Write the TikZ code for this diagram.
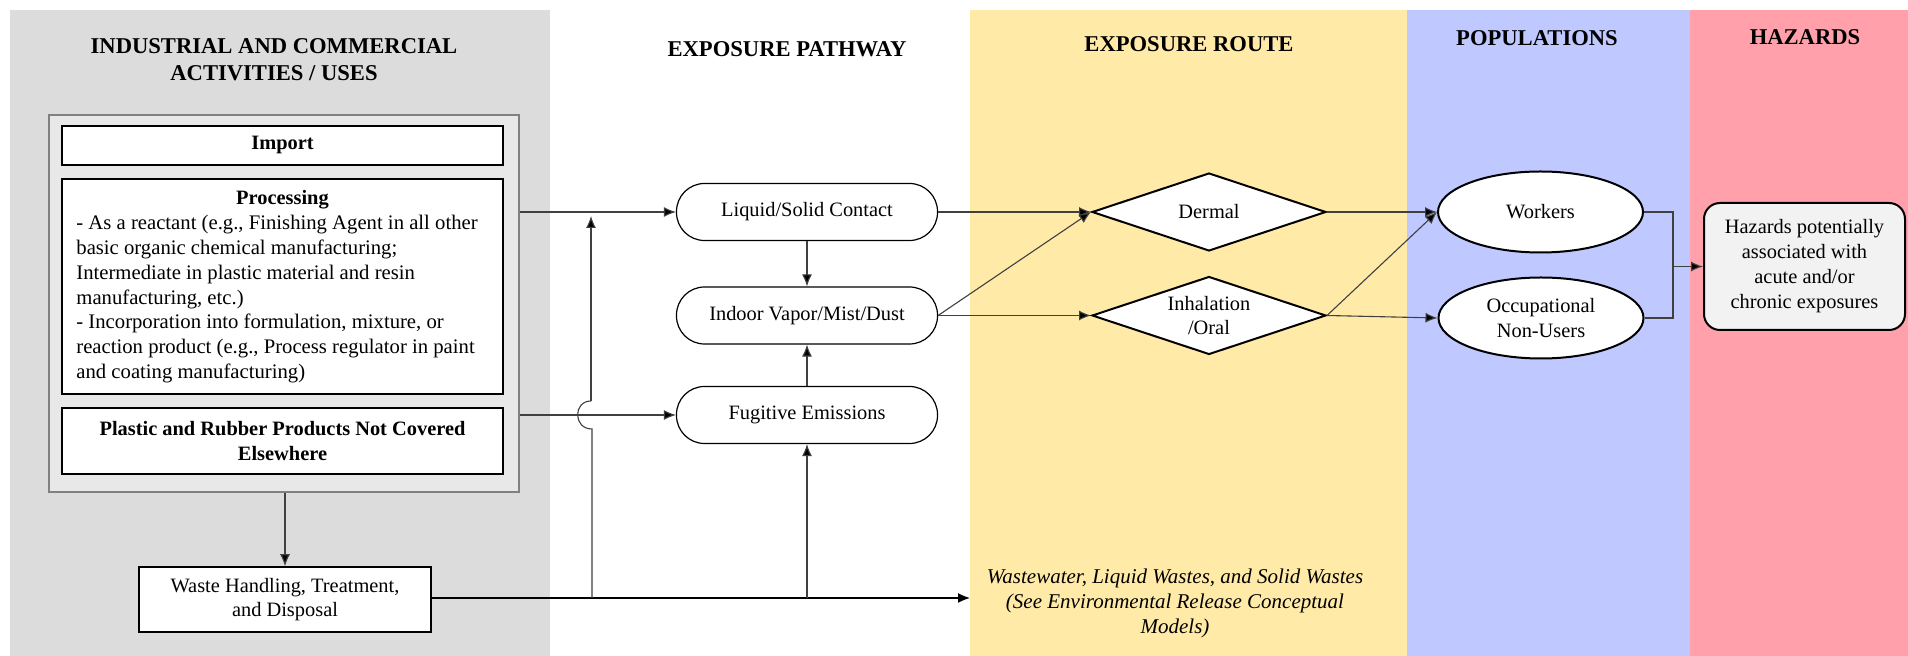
\documentclass[tikz,border=0pt]{standalone}
\usepackage{fontspec}
\setmainfont{Liberation Serif}
\usetikzlibrary{arrows.meta,shapes.geometric,calc}
\definecolor{bandgray}{HTML}{DCDCDC}
\definecolor{outerfill}{HTML}{E8E8E8}
\definecolor{bandyellow}{HTML}{FFEAA8}
\definecolor{bandblue}{HTML}{BFC9FF}
\definecolor{bandpink}{HTML}{FFA0AB}
\definecolor{hazfill}{HTML}{F2F2F2}
\definecolor{linegray}{HTML}{404040}
\begin{document}
\begin{tikzpicture}[x=0.5pt,y=-0.5pt,
  conn/.style={draw=linegray, line width=0.55pt},
  arr/.style={conn, -{Latex[length=6pt,width=5pt,fill=black]}},
  title/.style={font=\fontsize{11.3}{13.5}\selectfont\bfseries, align=center, inner sep=0pt},
  body/.style={font=\fontsize{10.2}{12.4}\selectfont},
  boxw/.style={rectangle, draw=black, fill=white, line width=0.75pt, inner sep=0pt, body, align=center},
  stadium/.style={rectangle, draw=black, fill=white, line width=0.6pt, rounded corners=14pt, minimum width=130.5pt, minimum height=28.5pt, inner sep=0pt, body},
  diam/.style={diamond, aspect=3, draw=black, fill=white, line width=1pt, inner sep=0pt, minimum width=117pt, minimum height=39pt, body, align=center},
  ell/.style={ellipse, draw=black, fill=white, line width=1pt, minimum width=102.5pt, minimum height=40.5pt, inner sep=0pt, body, align=center}
]
\useasboundingbox (0,0) rectangle (1908,656);
\fill[white] (0,0) rectangle (1908,656);
% bands
\fill[bandgray] (10,10) rectangle (550,656);
\fill[bandyellow] (970,10) rectangle (1407,656);
\fill[bandblue] (1407,10) rectangle (1690,656);
\fill[bandpink] (1690,10) rectangle (1908,656);
% titles
\node[title] (t1) at (274,59.5) {INDUSTRIAL AND COMMERCIAL\\ACTIVITIES / USES};
\node[title] (t2) at (787,49) {EXPOSURE PATHWAY};
\node[title] (t3) at (1189,44) {EXPOSURE ROUTE};
\node[title] (t4) at (1537,38) {POPULATIONS};
\node[title] (t5) at (1805,37) {HAZARDS};
% left group
\node[rectangle, draw=gray, fill=outerfill, line width=0.6pt, minimum width=235pt, minimum height=188.5pt, inner sep=0pt] (outer) at (284,303.5) {};
\node[boxw, minimum width=220.5pt, minimum height=19.5pt, font=\fontsize{10.2}{12.4}\selectfont\bfseries] (imp) at (282.5,145.5) {Import};
\node[boxw, minimum width=220.5pt, minimum height=107.5pt] (proc) at (282.5,286.5) {};
\node[inner sep=0pt, font=\fontsize{10.2}{12.4}\selectfont\bfseries] (proct) at (282.5,200) {Processing};
\node[font=\fontsize{10.35}{12.4}\selectfont, align=left, anchor=north west, inner sep=0pt] (procl) at (76,215) {- As a reactant (e.g., Finishing Agent in all other\\basic organic chemical manufacturing;\\Intermediate in plastic material and resin\\manufacturing, etc.)\\- Incorporation into formulation, mixture, or\\reaction product (e.g., Process regulator in paint\\and coating manufacturing)};
\node[boxw, minimum width=220.5pt, minimum height=33pt, font=\fontsize{10.2}{12.4}\selectfont\bfseries] (plas) at (282.5,441) {Plastic and Rubber Products Not Covered\\Elsewhere};
\node[boxw, minimum width=146pt, minimum height=32.5pt] (waste) at (285,599.5) {Waste Handling, Treatment,\\and Disposal};
% pathway
\node[stadium] (liq) at (807,212) {Liquid/Solid Contact};
\node[stadium] (ind) at (807,315.5) {Indoor Vapor/Mist/Dust};
\node[stadium] (fug) at (807,415) {Fugitive Emissions};
% routes
\node[diam] (derm) at (1209,212) {Dermal};
\node[diam] (inh) at (1209,315.5) {Inhalation\\/Oral};
% populations
\node[ell] (work) at (1540.5,212) {Workers};
\node[ell] (occ) at (1541,318) {Occupational\\Non-Users};
% hazards
\node[rectangle, draw=black, fill=hazfill, line width=1pt, rounded corners=8pt, minimum width=100.5pt, minimum height=63.5pt, inner sep=0pt, font=\fontsize{10.2}{12.5}\selectfont, align=center] (haz) at (1804.5,266.5) {Hazards potentially\\associated with\\acute and/or\\chronic exposures};
% wastewater text
\node[font=\fontsize{10.5}{12.6}\selectfont\itshape, align=center, inner sep=0pt] (ww) at (1175,603.5) {Wastewater, Liquid Wastes, and Solid Wastes\\(See Environmental Release Conceptual\\Models)};
\coordinate (wwend) at (970,598);
% connectors
\draw[arr] (outer.east |- liq.west) -- (liq.west);
\draw[arr] (outer.east |- fug.west) -- (fug.west);
\draw[arr] (liq.south) -- (ind.north);
\draw[arr] (fug.north) -- (ind.south);
\draw[arr] (waste.north |- outer.south) -- (waste.north);
\draw[arr, draw=black, line width=0.65pt] (waste.east |- 0,598) -- (wwend);
\coordinate (hopb) at (592,429);
\coordinate (hopt) at (591,401);
\draw[conn] (592,598) -- (hopb) .. controls (573,429) and (573,401) .. (hopt);
\draw[arr] (hopt) -- (591,216);
\draw[arr] (fug.south |- 0,598) -- (fug.south);
\draw[arr] (liq.east) -- (derm.west);
\draw[arr] (ind.east) -- (derm.west);
\draw[arr] (ind.east) -- (inh.west);
\draw[arr] (derm.east) -- (work.west);
\draw[arr] (inh.east) -- (work.west);
\draw[arr] (inh.east) -- (occ.west);
\coordinate (jn) at (1673,266.5);
\draw[conn] (work.east) -| (jn);
\draw[conn] (occ.east) -| (jn);
\draw[arr] (jn) -- (haz.west);
\end{tikzpicture}
\end{document}
